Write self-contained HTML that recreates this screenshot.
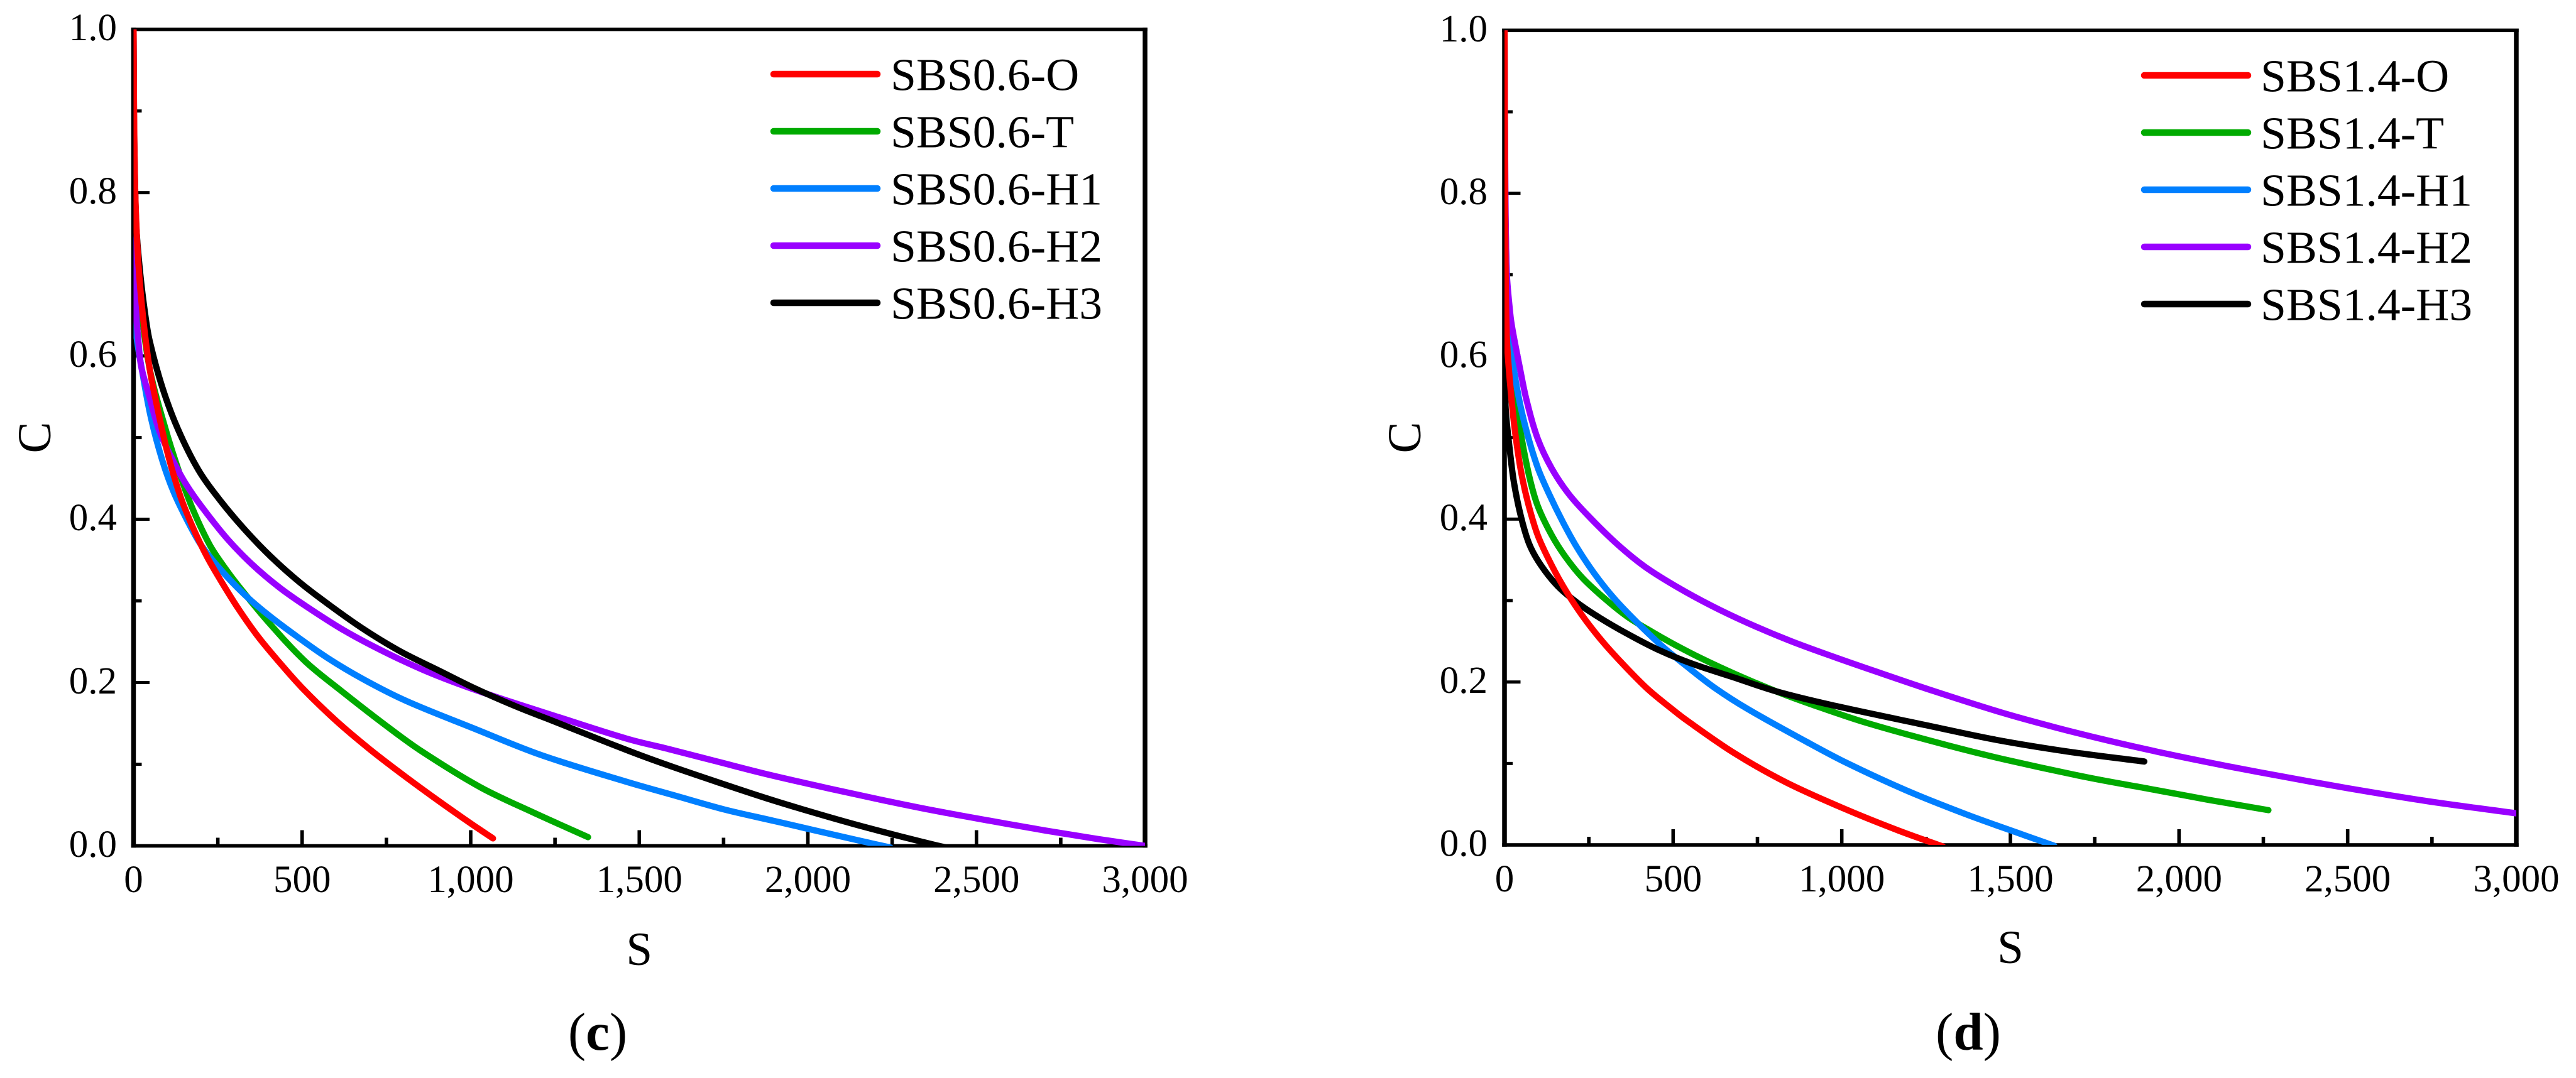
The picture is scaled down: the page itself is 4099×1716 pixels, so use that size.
<!DOCTYPE html>
<html lang="en">
<head>
<meta charset="utf-8">
<title>C versus S curves for SBS0.6 and SBS1.4</title>
<style>
html,body{margin:0;padding:0;background:#fff;}
svg{display:block;}
text{font-family:"Liberation Serif",serif;fill:#000;}
</style>
</head>
<body>
<svg id="figure" xmlns="http://www.w3.org/2000/svg" width="4099" height="1716" viewBox="0 0 4099 1716"></svg>
<script>
// Axis data
const xTicks = [0, 500, 1000, 1500, 2000, 2500, 3000];
const xTickLabels = ['0', '500', '1,000', '1,500', '2,000', '2,500', '3,000'];
const xMinorTicks = [250, 750, 1250, 1750, 2250, 2750];
const yTicks = [0, 0.2, 0.4, 0.6, 0.8, 1.0];
const yTickLabels = ['0.0', '0.2', '0.4', '0.6', '0.8', '1.0'];
const yMinorTicks = [0.1, 0.3, 0.5, 0.7, 0.9];

// Panel (c) series
const cNames = ['SBS0.6-O', 'SBS0.6-T', 'SBS0.6-H1', 'SBS0.6-H2', 'SBS0.6-H3'];
const cOS = [0,1,3,6.5,14,28,47.5,72,101.6,139,176,218,260,310,368,430,500,600,700,800,900,1000,1066];
const cOC = [1,.92,.84,.78,.715,.648,.585,.534,.48,.428,.39,.354,.324,.291,.257,.226,.1935,.1535,.1185,.0867,.0565,.0275,.0092];
const cTS = [0,2,12,25,50,97,140,176,226,270,310,401,509,614,745,852,1030,1185,1348];
const cTC = [1,.85,.72,.65,.58,.5076,.452,.412,.3685,.341,.319,.2735,.226,.1905,.1485,.1165,.0715,.041,.0107];
const cH1S = [0,.5,2,6,27,52,85,118,160,201,260,326,393,476,576,684,809,1007,1209,1458,1610,1753,1896,2038,2181,2245];
const cH1C = [1,.85,.72,.635,.578,.5236,.4725,.4343,.398,.368,.3375,.309,.285,.259,.23,.2035,.1775,.1442,.1112,.079,.0611,.0445,.0309,.0173,.0038,-.002];
const cH2S = [0,3,8,14,22.6,47.6,76.6,118,155.6,201,276,351,434,517,625,742,858,975,1100,1267,1468,1587,1729,1872,2039,2205,2371,2538,2704,2858,3000];
const cH2C = [1,.7,.651,.62,.5874,.549,.508,.471,.443,.416,.377,.345,.316,.292,.2637,.238,.2157,.1967,.179,.1568,.1307,.1186,.1035,.0884,.0725,.0575,.0435,.0309,.0188,.0085,0];
const cH3S = [0,1,4,8,20,34.5,47.5,85,131,193,260,335,409,493,584,684,792,909,1017,1142,1241,1468,1587,1729,1872,2003,2134,2276,2383,2410];
const cH3C = [1,.9,.82,.759,.7,.651,.619,.562,.511,.46,.4215,.385,.3535,.3227,.294,.265,.238,.214,.192,.1695,.1535,.1165,.0985,.0785,.059,.0425,.027,.0115,.0005,-.002];

// Panel (d) series
const dNames = ['SBS1.4-O', 'SBS1.4-T', 'SBS1.4-H1', 'SBS1.4-H2', 'SBS1.4-H3'];
const dOS = [0,1,3,7.2,19.7,32,48.8,69.6,98.7,140.3,185,235,290,350,423,490,540,680,835,1013,1168,1300];
const dOC = [1,.85,.72,.62,.552,.505,.459,.42,.38,.343,.31,.279,.25,.2225,.192,.169,.153,.1131,.0768,.0435,.0177,-.002];
const dTS = [0,2,8,15,30,48.8,73.7,98.7,140.3,181.9,231.8,298.3,364.9,439.8,506.3,581.2,681,805.8,914,1072.6,1315.6,1493.6,1731,1909,2087,2265];
const dTC = [1,.8,.68,.62,.56,.5044,.452,.416,.38,.353,.3275,.302,.28,.261,.2455,.2295,.2103,.1885,.172,.15,.1221,.1039,.0827,.0691,.0554,.0427];
const dH1S = [0,1,2,5,19.7,40.5,65.4,98.7,132,173.6,215.2,265,323.3,389.8,464.7,539.6,622.8,722.6,894,1013,1191,1370,1524,1630];
const dH1C = [1,.85,.765,.7,.6099,.553,.508,.463,.431,.396,.365,.334,.3035,.2745,.245,.2195,.193,.1665,.127,.101,.067,.0374,.0145,-.001];
const dH2S = [0,1,6,17,24,44.6,65.4,98.7,140.3,190.2,248.4,331.6,414.8,506.3,614.5,722.6,847.4,972.2,1097,1271.7,1470,1636,1790,1968,2146,2324,2502,2740,3000];
const dH2C = [1,.9,.708,.652,.632,.5876,.546,.4985,.462,.431,.404,.3702,.342,.318,.2935,.2722,.2505,.2315,.2135,.189,.163,.144,.1281,.1115,.0965,.0827,.0695,.0535,.0388];
const dH3S = [0,.3,1,3,15.5,28,48.8,73.7,107,157,215.2,281.7,364.9,456.4,556.2,681,805.8,972.2,1250,1458,1672,1897];
const dH3C = [1,.8,.65,.5396,.4853,.445,.403,.369,.344,.318,.2975,.279,.259,.2395,.2225,.2055,.1885,.1715,.147,.129,.1145,.1024];

// Colours for O, T, H1, H2, H3
const seriesColors = ['#ff0000', '#00aa00', '#007fff', '#9900ff', '#000000'];
const seriesKeys = ['o', 't', 'h1', 'h2', 'h3'];
// Paint order, bottom to top: T, H1, H2, H3, O
const paintOrder = [1, 2, 3, 4, 0];

const NS = 'http://www.w3.org/2000/svg';
const root = document.getElementById('figure');

function make(parent, tag, attrs, txt) {
  const el = document.createElementNS(NS, tag);
  for (const k in attrs) el.setAttribute(k, attrs[k]);
  if (txt !== undefined) el.textContent = txt;
  parent.appendChild(el);
  return el;
}

function smoothPath(pts) {
  let d = 'M' + pts[0][0].toFixed(2) + ' ' + pts[0][1].toFixed(2);
  const tan = (i) => {
    const a = pts[Math.max(i - 1, 0)], b = pts[Math.min(i + 1, pts.length - 1)];
    const dx = b[0] - a[0], dy = b[1] - a[1], l = Math.hypot(dx, dy) || 1;
    return [dx / l, dy / l];
  };
  for (let i = 0; i < pts.length - 1; i++) {
    const p = pts[i], q = pts[i + 1];
    const len = Math.hypot(q[0] - p[0], q[1] - p[1]) / 3;
    const t0 = tan(i), t1 = tan(i + 1);
    d += 'C' + (p[0] + t0[0] * len).toFixed(2) + ' ' + (p[1] + t0[1] * len).toFixed(2) + ' ' +
         (q[0] - t1[0] * len).toFixed(2) + ' ' + (q[1] - t1[1] * len).toFixed(2) + ' ' +
         q[0].toFixed(2) + ' ' + q[1].toFixed(2);
  }
  return d;
}

function drawPanel(cfg) {
  const g = make(root, 'g', {});
  
  

  const sx = (v) => cfg.left + (v / 3000) * (cfg.right - cfg.left);
  const sy = (v) => cfg.bottom - v * (cfg.bottom - cfg.top);

  const defs = make(g, 'defs', {});
  const clip = make(defs, 'clipPath', { id: 'clip-' + cfg.id });
  make(clip, 'rect', { x: cfg.left, y: cfg.top, width: cfg.right - cfg.left, height: cfg.bottom - cfg.top });

  // Frame
  const frame = make(g, 'g', { fill: '#000' });
  
  
  const vw = 7.5, hw = 5.6;
  make(frame, 'rect', { x: cfg.left - vw / 2, y: cfg.top - hw / 2, width: vw, height: cfg.bottom - cfg.top + hw });
  make(frame, 'rect', { x: cfg.right - vw / 2, y: cfg.top - hw / 2, width: vw, height: cfg.bottom - cfg.top + hw });
  make(frame, 'rect', { x: cfg.left - vw / 2, y: cfg.top - hw / 2, width: cfg.right - cfg.left + vw, height: hw });
  make(frame, 'rect', { x: cfg.left - vw / 2, y: cfg.bottom - hw / 2, width: cfg.right - cfg.left + vw, height: hw });

  // X ticks
  const xAxis = make(g, 'g', {});
  
  
  xTicks.forEach((v, i) => {
    const t = make(xAxis, 'rect', { x: sx(v) - 2.8, y: cfg.bottom - 25, width: 5.6, height: 25, fill: '#000' });
    
    
    const l = make(xAxis, 'text', { x: sx(v), y: cfg.xLabelY, 'text-anchor': 'middle', 'font-size': 61 }, xTickLabels[i]);
    
    
  });
  xMinorTicks.forEach((v) => {
    const t = make(xAxis, 'rect', { x: sx(v) - 2.8, y: cfg.bottom - 13, width: 5.6, height: 13, fill: '#000' });
    
    
  });

  // Y ticks
  const yAxis = make(g, 'g', {});
  
  
  yTicks.forEach((v, i) => {
    const t = make(yAxis, 'rect', { x: cfg.left, y: sy(v) - 2.5, width: 25.5, height: 5, fill: '#000' });
    
    
    const l = make(yAxis, 'text', { x: cfg.yLabelX, y: sy(v) + 17.5, 'text-anchor': 'end', 'font-size': 61 }, yTickLabels[i]);
    
    
  });
  yMinorTicks.forEach((v) => {
    const t = make(yAxis, 'rect', { x: cfg.left, y: sy(v) - 2.5, width: 13, height: 5, fill: '#000' });
    
    
  });

  // Axis titles
  const xt = make(g, 'text', { x: (cfg.left + cfg.right) / 2, y: cfg.xTitleY, 'text-anchor': 'middle', 'font-size': 75 }, 'S');
  
  
  const yt = make(g, 'text', { transform: 'translate(' + cfg.yTitleX + ' 696.5) rotate(-90)', 'text-anchor': 'middle', 'font-size': 75 }, 'C');
  
  

  // Curves
  const curves = make(g, 'g', { 'clip-path': 'url(#clip-' + cfg.id + ')', fill: 'none' });
  
  
  paintOrder.forEach((idx) => {
    const xs = cfg.series[idx][0], ys = cfg.series[idx][1];
    const pts = xs.map((v, i) => [sx(v), sy(ys[i])]);
    const p = make(curves, 'path', {
      d: smoothPath(pts), stroke: seriesColors[idx], 'stroke-width': 10,
      'stroke-linecap': 'round', 'stroke-linejoin': 'round'
    });
    
    
  });

  // Legend
  const legend = make(g, 'g', {});
  
  
  cfg.names.forEach((name, i) => {
    const cy = cfg.legendY + i * 91;
    const row = make(legend, 'g', {});
    
    
    const sw = make(row, 'line', {
      x1: cfg.legendX1, x2: cfg.legendX2, y1: cy, y2: cy,
      stroke: seriesColors[i], 'stroke-width': 10.5, 'stroke-linecap': 'round'
    });
    
    
    const lb = make(row, 'text', { x: cfg.legendTextX, y: cy + 25.5, 'font-size': 73.5 }, name);
    
    
  });

  // Panel caption
  const cap = make(g, 'text', { x: cfg.captionX, y: 1671, 'text-anchor': 'middle', 'font-size': 85 });
  
  
  make(cap, 'tspan', {}, '(');
  make(cap, 'tspan', { 'font-weight': 'bold' }, cfg.id);
  make(cap, 'tspan', {}, ')');
}

drawPanel({
  id: 'c', left: 212.5, right: 1822, top: 46.7, bottom: 1346.5,
  xLabelY: 1420, yLabelX: 186, xTitleY: 1536, yTitleX: 80, captionX: 951,
  legendY: 118, legendX1: 1231, legendX2: 1396, legendTextX: 1417,
  names: cNames,
  series: [[cOS, cOC], [cTS, cTC], [cH1S, cH1C], [cH2S, cH2C], [cH3S, cH3C]]
});

drawPanel({
  id: 'd', left: 2394, right: 4004, top: 48.3, bottom: 1345,
  xLabelY: 1419, yLabelX: 2367, xTitleY: 1533, yTitleX: 2260, captionX: 3132,
  legendY: 120, legendX1: 3412, legendX2: 3577, legendTextX: 3597,
  names: dNames,
  series: [[dOS, dOC], [dTS, dTC], [dH1S, dH1C], [dH2S, dH2C], [dH3S, dH3C]]
});
</script>
</body>
</html>
